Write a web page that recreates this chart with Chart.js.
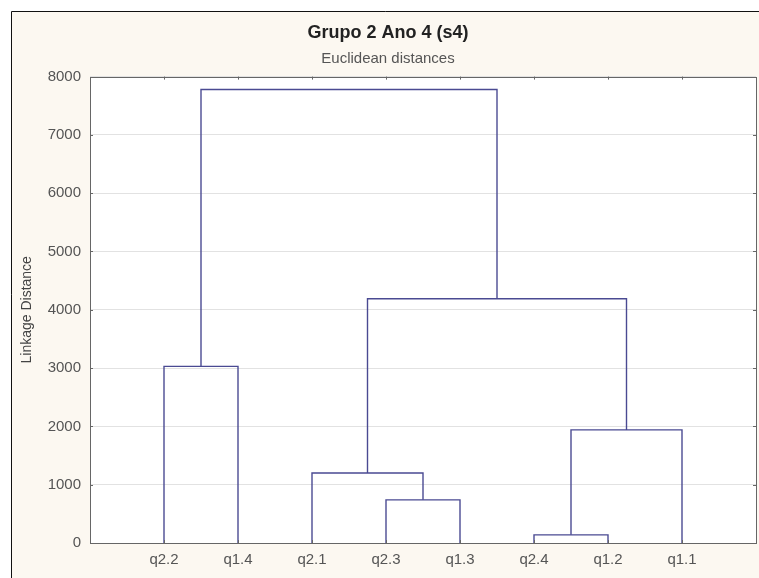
<!DOCTYPE html>
<html>
<head>
<meta charset="utf-8">
<script src="https://cdn.jsdelivr.net/npm/chart.js@4.4.0/dist/chart.umd.min.js"></script>
<style>
  html, body { margin: 0; padding: 0; background: #fff; }
  #wrap { width: 759px; height: 578px; }
</style>
</head>
<body>
<div id="wrap"><canvas id="dendro" width="759" height="578"></canvas></div>
<script>
// leaves in plotting order
const leaves = ['q2.2', 'q1.4', 'q2.1', 'q2.3', 'q1.3', 'q2.4', 'q1.2', 'q1.1'];

// linkage steps: node ids < 8 are leaves, 8+ are earlier merges
const linkLeft = [5, 3, 2, 8, 0, 10, 12];
const linkRight = [6, 4, 9, 7, 1, 11, 13];
const linkHeight = [140, 740, 1200, 1940, 3030, 4190, 7780];

const yTicks = [0, 1000, 2000, 3000, 4000, 5000, 6000, 7000, 8000];

const LINE_COLOR = '#4a4a92';
const FONT = '"Liberation Sans", Arial, sans-serif';

// where each node sits (x) and how high it is (y)
let nodeX = leaves.map((l, i) => i + 1);
let nodeY = leaves.map(() => 0);

let datasets = [];
linkHeight.forEach(function (h, i) {
    let a = linkLeft[i], b = linkRight[i];
    datasets.push({
        data: [
            {x: nodeX[a], y: nodeY[a]},
            {x: nodeX[a], y: h},
            {x: nodeX[b], y: h},
            {x: nodeX[b], y: nodeY[b]},
        ],
        borderColor: LINE_COLOR,
        borderWidth: 1.4,
        pointRadius: 0,
        tension: 0,
        fill: false,
    });
    nodeX.push((nodeX[a] + nodeX[b]) / 2);
    nodeY.push(h);
});

const frame = {
    id: 'frame',
    beforeDraw(chart) {
        let ctx = chart.ctx, a = chart.chartArea;
        ctx.save();
        ctx.fillStyle = '#ffffff';
        ctx.fillRect(0, 0, chart.width, chart.height);
        ctx.fillStyle = '#fcf8f1';
        ctx.fillRect(12, 12, chart.width - 12, chart.height - 12);
        ctx.strokeStyle = '#111';
        ctx.lineWidth = 1;
        ctx.beginPath();
        ctx.moveTo(11.5, chart.height);
        ctx.lineTo(11.5, 11.5);
        ctx.lineTo(chart.width, 11.5);
        ctx.stroke();
        ctx.fillStyle = '#ffffff';
        ctx.fillRect(a.left, a.top, a.right - a.left, a.bottom - a.top);
        ctx.restore();
    },
    afterDraw(chart) {
        let ctx = chart.ctx, a = chart.chartArea;
        let xs = chart.scales.x, ys = chart.scales.y;
        ctx.save();
        ctx.strokeStyle = '#666';
        ctx.lineWidth = 1;
        ctx.strokeRect(Math.round(a.left) + 0.5, Math.round(a.top) + 0.5,
            Math.round(a.right - a.left), Math.round(a.bottom - a.top));
        ctx.beginPath();
        xs.ticks.forEach(function (t) {
            let px = Math.round(xs.getPixelForValue(t.value)) + 0.5;
            ctx.moveTo(px, a.top); ctx.lineTo(px, a.top + 3);
            ctx.moveTo(px, a.bottom); ctx.lineTo(px, a.bottom - 3);
        });
        ys.ticks.forEach(function (t) {
            let py = Math.round(ys.getPixelForValue(t.value)) + 0.5;
            ctx.moveTo(a.left, py); ctx.lineTo(a.left + 3, py);
            ctx.moveTo(a.right, py); ctx.lineTo(a.right - 3, py);
        });
        ctx.stroke();
        ctx.restore();
    }
};

let ctx = document.getElementById('dendro').getContext('2d');
let chart = new Chart(ctx, {
    type: 'line',
    data: {datasets: datasets},
    plugins: [frame],
    options: {
        responsive: false,
        animation: false,
        layout: {padding: {left: 20, right: 3, top: 0, bottom: 0}},
        plugins: {
            legend: {display: false},
            tooltip: {enabled: false},
            title: {
                display: true,
                text: 'Grupo 2 Ano 4 (s4)',
                color: '#222',
                font: {family: FONT, size: 18, weight: 'bold'},
                padding: {top: 22, bottom: 6},
            },
            subtitle: {
                display: true,
                text: 'Euclidean distances',
                color: '#555',
                font: {family: FONT, size: 15},
                padding: {top: 0, bottom: 9},
            },
        },
        scales: {
            x: {
                type: 'linear',
                min: 0,
                max: leaves.length + 1,
                afterBuildTicks: function (scale) {
                    scale.ticks = leaves.map((l, i) => ({value: i + 1}));
                },
                afterFit: function (scale) { scale.height = 35; },
                ticks: {
                    autoSkip: false,
                    maxRotation: 0,
                    padding: 8,
                    color: '#555',
                    font: {family: FONT, size: 15},
                    callback: function (v) { return leaves[v - 1]; },
                },
                grid: {display: false, drawTicks: false},
                border: {display: false},
            },
            y: {
                min: 0,
                max: 8000,
                afterBuildTicks: function (scale) {
                    scale.ticks = yTicks.map(v => ({value: v}));
                },
                afterFit: function (scale) { scale.width = 70; },
                ticks: {
                    padding: 9,
                    color: '#555',
                    font: {family: FONT, size: 15},
                    callback: function (v) { return String(v); },
                },
                grid: {color: '#e2e2e2', drawTicks: false},
                border: {display: false},
                title: {
                    display: true,
                    text: 'Linkage Distance',
                    color: '#444',
                    font: {family: FONT, size: 14, lineHeight: 1},
                    padding: 0,
                },
            },
        },
    },
});
</script>
</body>
</html>
